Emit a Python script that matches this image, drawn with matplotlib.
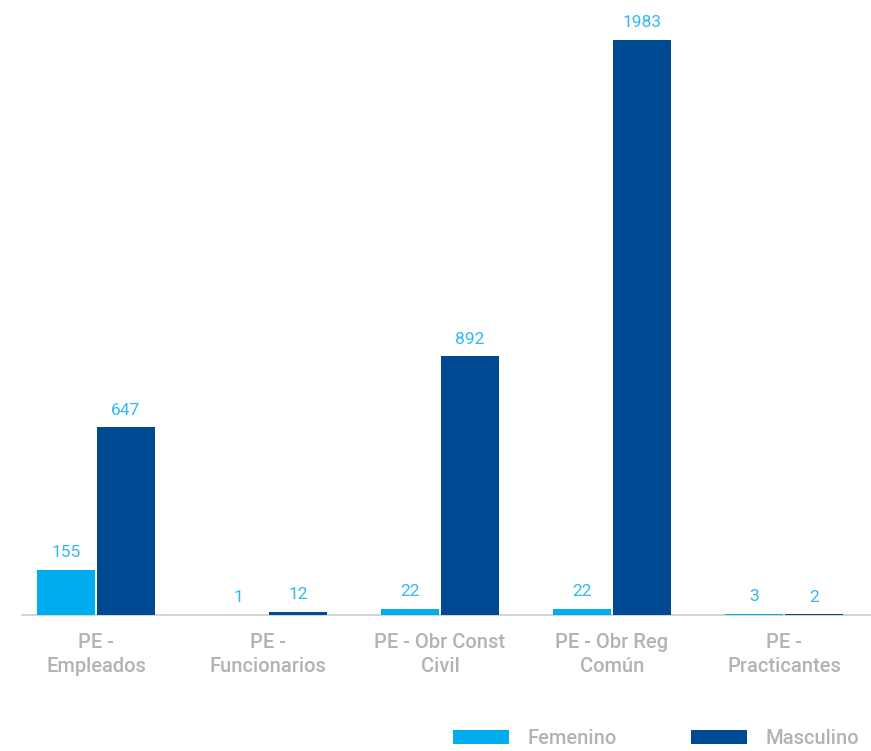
import matplotlib
matplotlib.use("Agg")
import matplotlib.pyplot as plt
import numpy as np

categories = ["PE -\nEmpleados", "PE -\nFuncionarios", "PE - Obr Const\nCivil", "PE - Obr Reg\nComún", "PE -\nPracticantes"]
femenino = [155, 1, 22, 22, 3]
masculino = [647, 12, 892, 1983, 2]
series_names = ["Femenino", "Masculino"]

c_fem = "#00AEEF"
c_mas = "#004A93"
c_lbl = "#33B9F2"
c_gray = "#B1B3B6"

plt.rcParams['font.family'] = ['Roboto', 'DejaVu Sans']

W, H = 871, 751
fig = plt.figure(figsize=(W/100, H/100), dpi=100)
ax = fig.add_axes([22/W, 1 - 615/H, (W-22)/W, 615/H])

x = np.arange(len(categories))
bw = 0.337
gap = 0.006
b1 = ax.bar(x - bw/2 - gap, femenino, bw, color=c_fem, label=series_names[0], zorder=3)
b2 = ax.bar(x + bw/2 + gap, masculino, bw, color=c_mas, label=series_names[1], zorder=3)

for bars, vals in ((b1, femenino), (b2, masculino)):
    for r, v in zip(bars, vals):
        ax.annotate(str(v), (r.get_x() + r.get_width()/2, r.get_height()),
                    xytext=(0, 7), textcoords="offset points", ha="center", va="bottom",
                    color=c_lbl, fontsize=12.5, fontweight="normal")

ax.set_xlim(-0.43, 4.506)
ax.set_ylim(0, 1983 * 615 / 575)
ax.set_yticks([])
for s in ["top", "right", "left"]:
    ax.spines[s].set_visible(False)
ax.spines["bottom"].set_color("#CCCCCC")
ax.spines["bottom"].set_linewidth(1.2)
ax.spines["bottom"].set_zorder(1)
ax.set_xticks(x)
ax.set_xticklabels(categories, color=c_gray, fontsize=14.5, fontweight="medium", linespacing=1.3)
ax.tick_params(axis="x", length=0, pad=13)

leg = fig.legend(loc="lower right", bbox_to_anchor=(862/W, 0.0), ncol=2, frameon=False,
                 fontsize=14.5, handlelength=2.8, handleheight=0.65, handletextpad=0.9,
                 columnspacing=3.7, borderaxespad=0.0, borderpad=0.15)
for t in leg.get_texts():
    t.set_color(c_gray)
    t.set_fontweight("medium")

fig.savefig("out.png", dpi=100)
